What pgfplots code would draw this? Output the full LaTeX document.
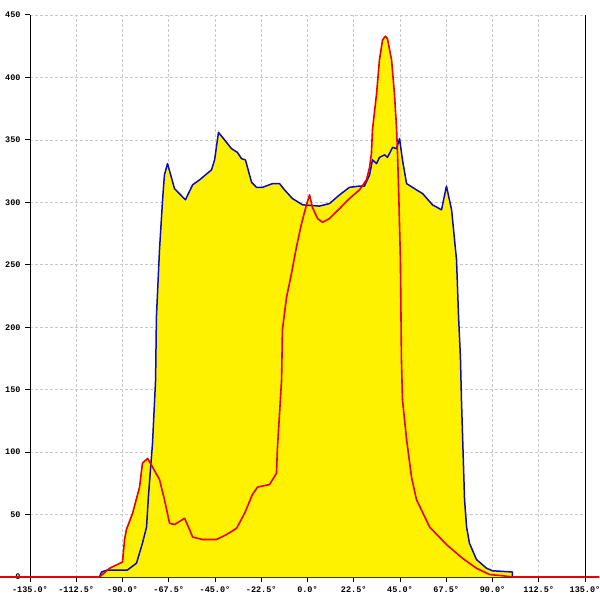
\documentclass[border=0pt]{standalone}
\usepackage{fontspec}
\setmainfont{Liberation Mono}
\usepackage{pgfplots}
\usepackage{pgfplotstable}
\pgfplotsset{compat=1.18}

\definecolor{curveblue}{RGB}{10,10,190}
\definecolor{curvered}{RGB}{235,0,0}
\definecolor{gridgray}{RGB}{200,200,200}

% blue distribution
\pgfplotstableread{
x y
-101.2 0
-100.2 4
-97.3 5.6
-87.6 5.6
-83.2 11
-80.3 27
-78.3 40
-77.4 64
-76.4 86
-75.4 107
-73.9 158
-73.5 208
-72.0 262
-70.5 302
-69.6 322
-68.1 331
-64.7 311
-59.4 302
-55.9 314
-52.5 318
-46.7 326
-45.2 334
-43.3 356
-39.4 348
-37.0 343
-34.1 340
-32.1 335
-30.2 334
-27.2 316
-24.8 312
-21.9 312
-17.0 315
-13.6 315
-11.2 310
-7.3 303
-2.4 298
5.8 297
10.7 299
15.6 306
20.4 312
25.3 313
27.7 313
30.2 322
31.6 334
33.6 331
35.0 336
37.5 338
38.9 336
41.4 344
43.3 343
44.8 351
46.2 334
48.2 315
53.0 310
56.0 307
60.8 298
65.2 294
67.6 313
70.1 294
72.5 254
73.5 208
74.4 176
74.9 142
76.4 62
77.4 40
78.8 27
82.2 14
87.1 7
90.0 5
99.7 4
99.7 0
}\bluedata

% red distribution (baseline runs across the whole picture)
\pgfplotstableread{
x y
-150 0
-101.2 0
-96.3 7
-90.0 12
-89.0 30
-88.1 38
-85.1 51
-81.7 72
-80.3 91
-77.8 95
-75.4 88
-72.0 78
-69.6 62
-67.1 43
-64.7 42
-59.8 47
-57.4 38
-55.9 32
-51.1 30
-44.3 30
-39.4 34
-34.5 39
-30.6 51
-26.8 66
-24.3 72
-18.5 74
-15.1 83
-14.6 104
-13.6 131
-12.6 158
-12.2 198
-10.2 224
-7.8 243
-5.4 264
-2.9 283
-0.5 298
1.0 306
2.4 296
4.9 287
7.3 284
10.7 287
15.6 295
20.4 303
25.3 310
28.7 318
30.2 328
31.1 339
31.6 358
33.6 387
35.0 414
36.5 430
37.9 433
38.9 431
40.9 414
42.3 387
43.3 360
43.8 339
44.3 312
45.2 254
45.7 174
46.2 142
48.2 110
50.6 80
53.0 62
59.4 40
67.6 26
75.4 15
82.2 7
88.5 2
94.9 1
99.7 0
142 0
}\reddata

\begin{document}
\begin{tikzpicture}
\begin{axis}[
    scale only axis,
    width=555pt, height=562pt,
    xmin=-135, xmax=135,
    ymin=0, ymax=450,
    clip=false,
    axis x line*=bottom,
    axis y line*=left,
    axis line style={-, black, line width=1pt},
    xtick={-135,-112.5,-90,-67.5,-45,-22.5,0,22.5,45,67.5,90,112.5,135},
    xticklabels={-135.0°,-112.5°,-90.0°,-67.5°,-45.0°,-22.5°,0.0°,22.5°,45.0°,67.5°,90.0°,112.5°,135.0°},
    ytick={0,50,...,450},
    tick align=outside,
    major tick length=5pt,
    tick style={black, line width=1pt},
    ticklabel style={font=\fontsize{8.5}{9}\selectfont\bfseries},
    /pgf/number format/assume math mode=true,
    xticklabel style={yshift=-1pt},
    yticklabel style={xshift=-1pt},
    grid=major,
    major grid style={gridgray, line width=0.6pt, dash pattern=on 2.5pt off 2.5pt},
]
\addplot[fill=yellow, draw=none] table[x=x, y=y] {\bluedata} \closedcycle;
\addplot[fill=yellow, draw=none] table[x=x, y=y] {\reddata} \closedcycle;
\addplot[curveblue, line width=1.5pt, line join=round] table[x=x, y=y] {\bluedata};
\addplot[curvered, line width=1.6pt, line join=round] table[x=x, y=y] {\reddata};
\draw[black, line width=1pt] (axis cs:135,0) -- (axis cs:135,450);
\end{axis}
\pgfresetboundingbox
\path ([shift={(-30pt,-23pt)}]current axis.south west) rectangle ([shift={(570pt,577pt)}]current axis.south west);
\end{tikzpicture}
\end{document}
